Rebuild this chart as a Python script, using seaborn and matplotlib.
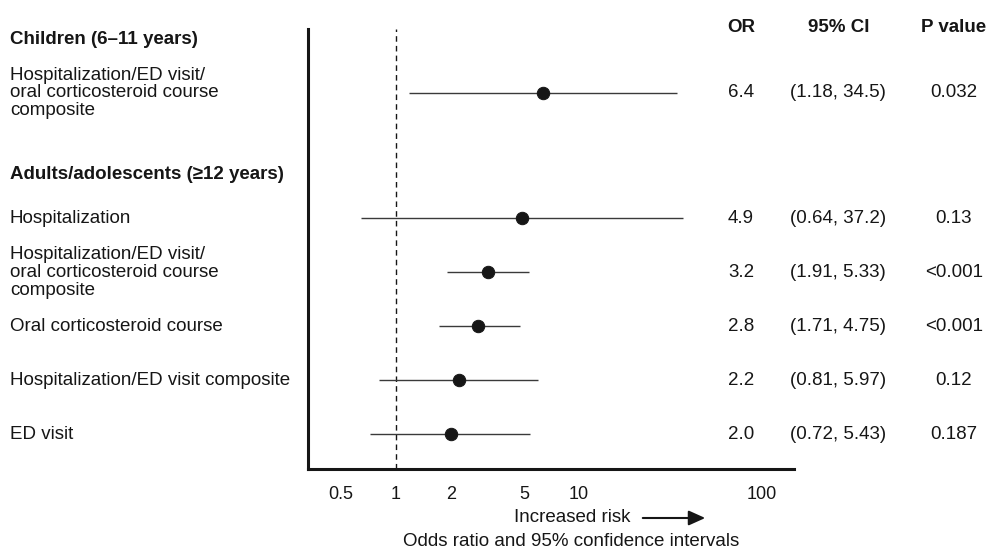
import numpy as np
import pandas as pd
import seaborn as sns
import matplotlib.pyplot as plt
from matplotlib.patches import FancyArrowPatch
from matplotlib.transforms import blended_transform_factory

# Data
groups = ['Children (6\u201311 years)', 'Adults/adolescents (\u226512 years)']
labels = ['Hospitalization/ED visit/\noral corticosteroid course\ncomposite',
          'Hospitalization',
          'Hospitalization/ED visit/\noral corticosteroid course\ncomposite',
          'Oral corticosteroid course',
          'Hospitalization/ED visit composite',
          'ED visit']
group_of = [0, 1, 1, 1, 1, 1]
odds = [6.4, 4.9, 3.2, 2.8, 2.2, 2.0]
ci_low = [1.18, 0.64, 1.91, 1.71, 0.81, 0.72]
ci_high = [34.5, 37.2, 5.33, 4.75, 5.97, 5.43]
or_text = ['6.4', '4.9', '3.2', '2.8', '2.2', '2.0']
ci_text = ['(1.18, 34.5)', '(0.64, 37.2)', '(1.91, 5.33)', '(1.71, 4.75)', '(0.81, 5.97)', '(0.72, 5.43)']
p_text = ['0.032', '0.13', '<0.001', '<0.001', '0.12', '0.187']
xticks = [0.5, 1, 2, 5, 10, 100]
xtick_labels = ['0.5', '1', '2', '5', '10', '100']

# row layout: headers then items, smaller gap right after a header
ypos, header_y = [], []
y = 0.0
prev = None
for g in group_of:
    if g != prev:
        if prev is not None:
            y += 1.52
        header_y.append(y)
        y += 0.98 if prev is None else 0.8
        prev = g
    else:
        y += 1.0
    ypos.append(y)

df = pd.DataFrame({'label': labels, 'y': ypos, 'OR': odds, 'lo': ci_low, 'hi': ci_high})

sns.set_style('white')
plt.rcParams['font.family'] = ['Liberation Sans', 'DejaVu Sans']
fs = 13.5
ink = '#161616'

fig = plt.figure(figsize=(9.87, 5.51), dpi=100)
ax = fig.add_axes([308 / 987, 1 - 469 / 551, 486 / 987, 440 / 551])

ax.hlines(df['y'], df['lo'], df['hi'], color='#3a3a3a', lw=1.0, zorder=2)
sns.scatterplot(data=df, x='OR', y='y', ax=ax, color=ink, s=80, edgecolor=ink, zorder=3)
ax.axvline(1, color=ink, lw=1.0, ls=(0, (4, 3)), zorder=1)

ax.set_xscale('log')
ax.set_xlim(0.33, 150)
ax.set_ylim(7.94, -0.2)
ax.set_xticks([0.33] + xticks + [150])
ax.set_xticklabels([''] + xtick_labels + [''])
ax.minorticks_off()
ax.set_yticks([])
ax.set_xlabel('')
ax.set_ylabel('')
sns.despine(ax=ax)
for s in ['left', 'bottom']:
    ax.spines[s].set_linewidth(2.2)
    ax.spines[s].set_color(ink)
ax.tick_params(axis='x', direction='out', length=7, width=2, color=ink, labelsize=13, pad=5, labelcolor=ink)

tr = blended_transform_factory(fig.transFigure, ax.transData)
for gi, gy in enumerate(header_y):
    ax.text(10 / 987, gy, groups[gi], transform=tr, va='center', ha='left', fontweight='bold', color=ink, fontsize=fs)
for i, row in df.iterrows():
    ax.text(10 / 987, row['y'], row['label'], transform=tr, va='center', ha='left', color=ink,
            linespacing=1.06, fontsize=fs)
    ax.text(741 / 987, row['y'], or_text[i], transform=tr, va='center', ha='center', color=ink, fontsize=fs)
    ax.text(838 / 987, row['y'], ci_text[i], transform=tr, va='center', ha='center', color=ink, fontsize=fs)
    ax.text(954 / 987, row['y'], p_text[i], transform=tr, va='center', ha='center', color=ink, fontsize=fs)

hy = 1 - 27 / 551
fig.text(741 / 987, hy, 'OR', ha='center', va='center', fontweight='bold', color=ink, fontsize=fs)
fig.text(839 / 987, hy, '95% CI', ha='center', va='center', fontweight='bold', color=ink, fontsize=fs)
fig.text(954 / 987, hy, 'P value', ha='center', va='center', fontweight='bold', color=ink, fontsize=fs)

fig.text(572 / 987, 1 - 518 / 551, 'Increased risk', ha='center', va='center', color=ink, fontsize=fs)
fig.patches.append(FancyArrowPatch(
    (640 / 987, 1 - 518 / 551), (708 / 987, 1 - 518 / 551), transform=fig.transFigure,
    arrowstyle='-|>,head_length=10,head_width=4.5', color=ink, lw=1.5, mutation_scale=1))
fig.text(571 / 987, 1 - 541 / 551, 'Odds ratio and 95% confidence intervals', ha='center', va='center',
         color=ink, fontsize=fs)

fig.savefig('out.png', dpi=100)
